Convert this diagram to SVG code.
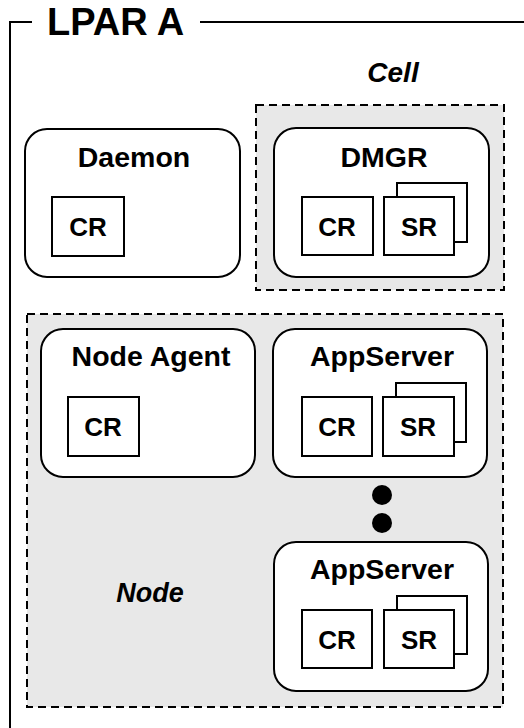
<svg xmlns="http://www.w3.org/2000/svg" width="524" height="728" viewBox="0 0 524 728">
<style>
text{font-family:"Liberation Sans",Arial,sans-serif;font-weight:bold;fill:#000;text-anchor:middle}
.title{font-size:28.5px}
.small{font-size:26px}
.group{fill:#e8e8e8;stroke:#000;stroke-width:2;stroke-dasharray:8 5}
.proc{fill:#fff;stroke:#000;stroke-width:2}
.box{fill:#fff;stroke:#000;stroke-width:2}
.frame{fill:none;stroke:#000;stroke-width:2}
</style>
<g id="lpar">
<polyline class="frame" points="10,728 10,22 32,22"/>
<line class="frame" x1="200" y1="22" x2="524" y2="22"/>
<text x="47" y="35" style="font-size:38px;text-anchor:start">LPAR A</text>
</g>
<g id="cell">
<rect class="group" x="256" y="105" width="248" height="185"/>
<text x="393" y="82" style="font-size:28px;font-style:italic">Cell</text>
</g>
<g id="node">
<rect class="group" x="27" y="314" width="476" height="393"/>
<text x="150" y="602" style="font-size:27px;font-style:italic">Node</text>
</g>
<g id="daemon">
<rect class="proc" x="25" y="129" width="215" height="148" rx="22"/>
<text class="title" x="134" y="167">Daemon</text>
<rect class="box" x="52" y="197" width="72" height="59"/>
<text class="small" x="88" y="236">CR</text>
</g>
<g id="dmgr">
<rect class="proc" x="274" y="128" width="215" height="149" rx="22"/>
<text class="title" x="384" y="167">DMGR</text>
<rect class="box" x="302" y="197" width="71" height="58"/>
<text class="small" x="337" y="236">CR</text>
<rect class="box" x="397" y="183" width="70" height="59"/>
<rect class="box" x="384" y="197" width="70" height="58"/>
<text class="small" x="419" y="236">SR</text>
</g>
<g id="nodeagent">
<rect class="proc" x="41" y="329" width="214" height="148" rx="22"/>
<text class="title" x="151" y="366">Node Agent</text>
<rect class="box" x="68" y="397" width="71" height="59"/>
<text class="small" x="103" y="436">CR</text>
</g>
<g id="appserver1">
<rect class="proc" x="273" y="329" width="214" height="148" rx="22"/>
<text class="title" x="382" y="366">AppServer</text>
<rect class="box" x="302" y="397" width="70" height="59"/>
<text class="small" x="337" y="436">CR</text>
<rect class="box" x="396" y="383" width="70" height="59"/>
<rect class="box" x="383" y="397" width="71" height="59"/>
<text class="small" x="418" y="436">SR</text>
</g>
<g id="ellipsis">
<circle cx="382" cy="495" r="10" fill="#000"/>
<circle cx="382" cy="523" r="10" fill="#000"/>
</g>
<g id="appserver2">
<rect class="proc" x="274" y="542" width="214" height="149" rx="22"/>
<text class="title" x="382" y="579">AppServer</text>
<rect class="box" x="302" y="610" width="70" height="58"/>
<text class="small" x="337" y="649">CR</text>
<rect class="box" x="397" y="596" width="70" height="58"/>
<rect class="box" x="384" y="610" width="70" height="58"/>
<text class="small" x="419" y="649">SR</text>
</g>
<g id="connectors"></g>
</svg>
